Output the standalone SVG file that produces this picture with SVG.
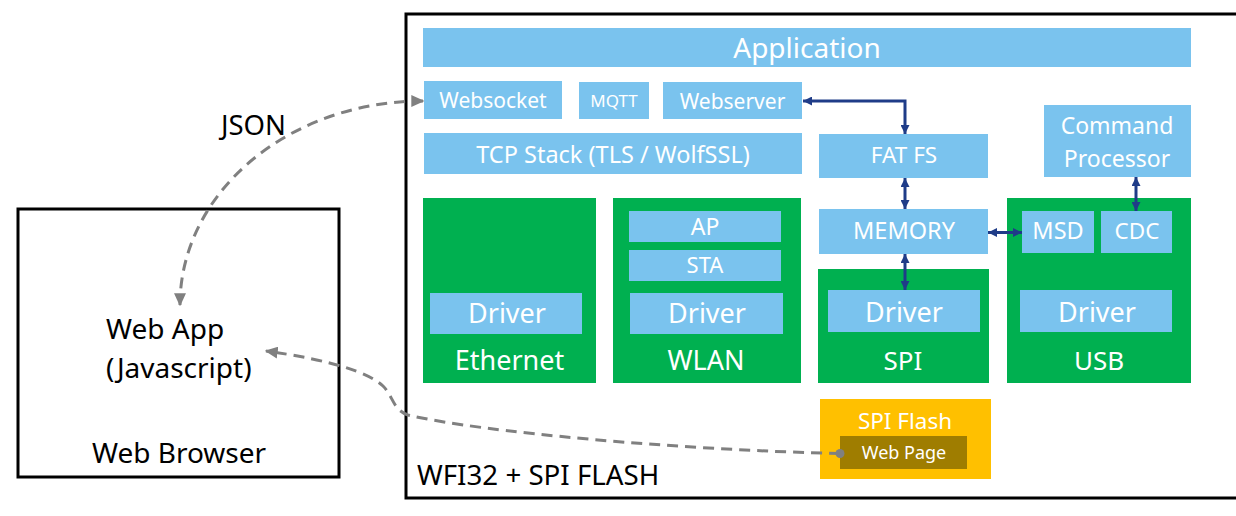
<svg xmlns="http://www.w3.org/2000/svg" width="1236" height="516" viewBox="0 0 1236 516">
<style>
text{font-family:"Noto Sans","Open Sans","DejaVu Sans",sans-serif}
.lb{fill:#7AC3EE}
.gr{fill:#00B050}
.w{fill:#fff;text-anchor:middle}
.k{fill:#000}
.frame{fill:#fff;stroke:#000;stroke-width:3}
.blue{fill:none;stroke:#1F3C88;stroke-width:3;marker-start:url(#ba);marker-end:url(#ba)}
.dash{fill:none;stroke:#808080;stroke-width:3;stroke-dasharray:11 7}
</style>
<defs>
<marker id="ba" viewBox="0 0 10 10" refX="10" refY="5" markerWidth="9" markerHeight="9" markerUnits="userSpaceOnUse" orient="auto-start-reverse">
<path d="M0,0 L10,5 L0,10 Z" fill="#1F3C88"/>
</marker>
<marker id="ga" viewBox="0 0 10 10" refX="9" refY="5" markerWidth="13" markerHeight="12" markerUnits="userSpaceOnUse" orient="auto-start-reverse" preserveAspectRatio="none">
<path d="M0,0 L10,5 L0,10 Z" fill="#808080"/>
</marker>
</defs>
<rect width="1236" height="516" fill="#fff"/>

<g id="browser">
<rect class="frame" x="18" y="209" width="321" height="268"/>
<text class="k" x="106" y="339" font-size="28">Web App</text>
<text class="k" x="106" y="378" font-size="28">(Javascript)</text>
<text class="k" x="92" y="463" font-size="28">Web Browser</text>
</g>

<g id="wfi32">
<rect class="frame" x="406" y="14" width="1210" height="484"/>
<text class="k" x="417" y="485" font-size="27.7">WFI32 + SPI FLASH</text>
</g>

<g id="application">
<rect class="lb" x="423" y="28" width="768" height="39"/>
<text class="w" x="807" y="58" font-size="28">Application</text>
</g>
<g id="websocket">
<rect class="lb" x="424" y="81" width="138" height="38"/>
<text class="w" x="493" y="108" font-size="21">Websocket</text>
</g>
<g id="mqtt">
<rect class="lb" x="579" y="82" width="70" height="37"/>
<text class="w" x="614" y="107" font-size="17">MQTT</text>
</g>
<g id="webserver">
<rect class="lb" x="663" y="82" width="139" height="37"/>
<text class="w" x="732.5" y="109" font-size="21">Webserver</text>
</g>
<g id="tcp">
<rect class="lb" x="424" y="133" width="378" height="41"/>
<text class="w" x="613" y="163" font-size="23.5">TCP Stack (TLS / WolfSSL)</text>
</g>
<g id="fatfs">
<rect class="lb" x="819" y="134" width="169" height="44"/>
<text class="w" x="904" y="163" font-size="22.5">FAT FS</text>
</g>
<g id="cmdproc">
<rect class="lb" x="1044" y="105" width="147" height="72"/>
<text class="w" x="1117" y="134" font-size="23">Command</text>
<text class="w" x="1117" y="167" font-size="23">Processor</text>
</g>
<g id="memory">
<rect class="lb" x="819" y="209" width="169" height="45"/>
<text class="w" x="904" y="239" font-size="23.5">MEMORY</text>
</g>

<g id="ethernet">
<rect class="gr" x="423" y="198" width="173" height="185"/>
<rect class="lb" x="430" y="293" width="152" height="41"/>
<text class="w" x="507" y="323" font-size="27">Driver</text>
<text class="w" x="509.5" y="370" font-size="27">Ethernet</text>
</g>
<g id="wlan">
<rect class="gr" x="613" y="198" width="188" height="185"/>
<rect class="lb" x="629" y="211" width="152" height="31"/>
<text class="w" x="705" y="235" font-size="23">AP</text>
<rect class="lb" x="629" y="250" width="152" height="31"/>
<text class="w" x="705" y="273" font-size="22">STA</text>
<rect class="lb" x="630" y="293" width="153" height="41"/>
<text class="w" x="707" y="323" font-size="27">Driver</text>
<text class="w" x="706" y="370" font-size="27">WLAN</text>
</g>
<g id="spi">
<rect class="gr" x="818" y="269" width="171" height="114"/>
<rect class="lb" x="828" y="290" width="152" height="42"/>
<text class="w" x="904" y="322" font-size="27">Driver</text>
<text class="w" x="903" y="370" font-size="26">SPI</text>
</g>
<g id="usb">
<rect class="gr" x="1007" y="198" width="184" height="185"/>
<rect class="lb" x="1022" y="211" width="72" height="42"/>
<text class="w" x="1058" y="239" font-size="23.5">MSD</text>
<rect class="lb" x="1101" y="211" width="71" height="42"/>
<text class="w" x="1137" y="239" font-size="22.5">CDC</text>
<rect class="lb" x="1020" y="290" width="152" height="42"/>
<text class="w" x="1097" y="322" font-size="27">Driver</text>
<text class="w" x="1099" y="370" font-size="26">USB</text>
</g>
<g id="spiflash">
<rect x="820" y="399" width="171" height="80" fill="#FFC000"/>
<text class="w" x="905" y="429" font-size="22.5">SPI Flash</text>
<rect x="840" y="436" width="127" height="33" fill="#9F7D00"/>
<text class="w" x="904" y="459" font-size="18">Web Page</text>
</g>

<g id="connectors">
<path class="blue" d="M803,101 H905 V134"/>
<path class="blue" d="M905,178 V209"/>
<path class="blue" d="M905,254 V290"/>
<path class="blue" d="M988,232.5 H1022"/>
<path class="blue" d="M1136,177 V211"/>
<path class="dash" d="M423,101 A243,204 0 0 0 180,305" marker-start="url(#ga)" marker-end="url(#ga)"/>
<path class="dash" d="M840,453.5 C680,450 480,432 408,415 C393,410 393,396 383,386 C368,372 330,360 266,351" marker-end="url(#ga)"/>
<circle cx="840" cy="453.5" r="4.5" fill="#808080"/>
</g>
<text class="k" x="221" y="135" font-size="27.5">JSON</text>
</svg>
